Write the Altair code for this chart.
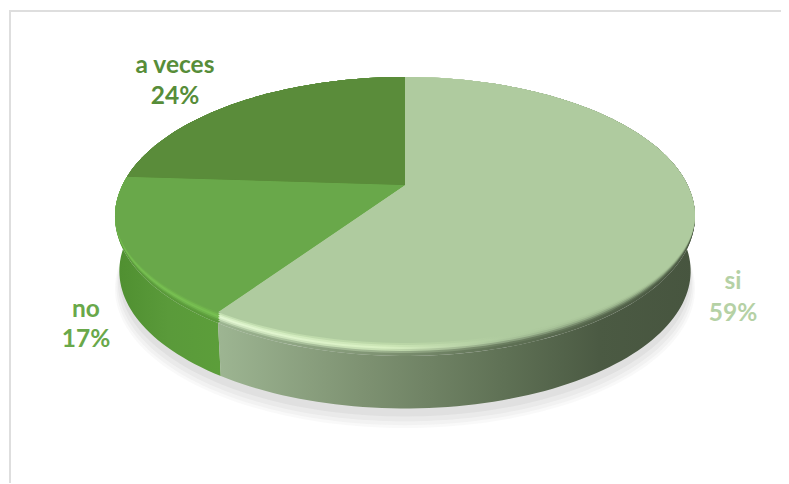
import math
import altair as alt

categories = ["si", "no", "a veces"]
shares = [59, 17, 24]

# Perspective disc geometry (page pixels)
APEX_X, APEX_Y = 405.0, 185.0
TOP_Y, BOTTOM_Y, HALF_WIDTH = 77.0, 356.0, 290.0
up = APEX_Y - TOP_Y
down = BOTTOM_Y - APEX_Y
K = (down - up) / (down + up)
B = up * (1 + K)
A = HALF_WIDTH * math.sqrt(1 - K * K)
OX, OY = 8.0, 8.0
WIDEST_V = 30.0


def rim(f, scale=1.0, shift=0.0, bevel=0.0):
    t = 2 * math.pi * f
    X, Y = math.sin(t), -math.cos(t)
    d = 1 - K * Y
    v = B * Y / d
    lift = bevel * (max(0.0, v - WIDEST_V) / (down - WIDEST_V)) ** 0.6
    return [APEX_X - OX + scale * A * X / d, APEX_Y - OY + scale * v + shift - lift]


def arc(f0, f1, scale=1.0, shift=0.0, bevel=0.0):
    n = max(4, int(abs(f1 - f0) * 240))
    return [rim(f0 + (f1 - f0) * i / n, scale, shift, bevel) for i in range(n + 1)]


def feature(ring):
    return {"type": "Feature", "properties": {},
            "geometry": {"type": "Polygon", "coordinates": [ring + [ring[0]]]}}


def wedge(f0, f1, scale=1.0, shift=0.0, bevel=0.0):
    return feature([[APEX_X - OX, APEX_Y - OY + shift]] + arc(f0, f1, scale, shift, bevel))


def wall(f0, f1):
    return feature(arc(f0, f1) + arc(f1, f0, 0.985, 55.0))


def shape(feat, fill, opacity=1.0):
    return (
        alt.Chart(alt.Data(values=[feat]))
        .mark_geoshape(fill=fill, stroke=None, strokeWidth=0, opacity=opacity)
        .project(type="identity", scale=1, translate=[0, 0])
    )


def hgrad(stops):
    return {"gradient": "linear", "x1": 0, "x2": 1, "y1": 0, "y2": 0,
            "stops": [{"offset": o, "color": c} for o, c in stops]}


cuts = [0.0]
for s in shares:
    cuts.append(cuts[-1] + s / sum(shares))

layers = []

# frame: left and top edges only
frame_color = "#dedede"
layers.append(alt.Chart(alt.Data(values=[{"a": 1}])).mark_rule(color=frame_color, strokeWidth=2).encode(
    x=alt.value(2), y=alt.value(2), y2=alt.value(475)))
layers.append(alt.Chart(alt.Data(values=[{"a": 1}])).mark_rule(color=frame_color, strokeWidth=2).encode(
    x=alt.value(1), x2=alt.value(773), y=alt.value(3)))

# soft shadow under the disc
for sc, sh, op in [(1.0, 72, 0.05), (0.995, 70, 0.06), (0.99, 67, 0.08), (0.985, 63, 0.10)]:
    layers.append(shape(wedge(0, 1, sc, sh), "#8a8a8a", op))

# side walls
layers.append(shape(wall(cuts[1], cuts[2]), hgrad([(0, "#4f8f30"), (0.5, "#5a9a3a"), (1, "#5c9e3a")])))
layers.append(shape(wall(0.2, cuts[1]), hgrad([(0, "#9db592"), (0.3, "#7e9272"), (0.6, "#5f7155"), (0.8, "#4b5a43"), (1, "#47553f")])))

# bevelled top: bands from the outer edge inwards
si_face, no_face, av_face = "#afcb9f", "#69a84a", "#5a8c3a"
bands = [
    (0.0, "#5a9a3a", ["#9db592", "#7e9272", "#5f7155", "#47553f"]),
    (3.0, "#62a341", ["#b7cfaa", "#9cb28e", "#6b7e60", "#4c5b44"]),
    (5.0, "#6fb54c", ["#d3e8c4", "#c6dfb2", "#8ea482", "#586a4e"]),
    (7.0, "#78c052", ["#e4f8d4", "#d8f0c2", "#a9c49a", "#74896a"]),
    (9.0, "#73b94e", ["#d8f0c6", "#cce6b6", "#afcb9f", "#95ae86"]),
    (11.0, "#6cad4b", ["#c4dfb2", "#bcd8a8", "#afcb9f", "#a8c398"]),
    (13.0, no_face, [si_face, si_face, si_face, si_face]),
]
for bv, no_c, si_c in bands:
    layers.append(shape(wedge(cuts[0], cuts[1], 1.0, 0.0, bv),
                        hgrad([(0, si_c[0]), (0.35, si_c[1]), (0.6, si_c[2]), (1, si_c[3])]) if si_c[0] != si_c[3] else si_c[0]))
    layers.append(shape(wedge(cuts[1], cuts[2], 1.0, 0.0, bv), no_c))
    layers.append(shape(wedge(cuts[2], cuts[3], 1.0, 0.0, bv), av_face))

# labels
label_colors = ["#b5d1a5", "#69a84a", "#578d39"]
label_pos = [(733, 282, 314), (86, 310, 340), (175, 66, 97)]
for cat, share, col, (lx, y1, y2) in zip(categories, shares, label_colors, label_pos):
    for text, ly in ((cat, y1), (f"{share}%", y2)):
        layers.append(
            alt.Chart(alt.Data(values=[{"t": text}]))
            .mark_text(font="Lato", fontWeight="bold", fontSize=24.5, color=col, align="center", baseline="middle")
            .encode(text="t:N", x=alt.value(lx - OX), y=alt.value(ly - OY))
        )

chart = (
    alt.layer(*layers)
    .properties(width=773, height=475, padding=0, autosize=alt.AutoSizeParams(type="none"), background="white")
    .configure_view(stroke=None)
)
chart.save("out.html", embed_options={"renderer": "svg", "actions": False})
